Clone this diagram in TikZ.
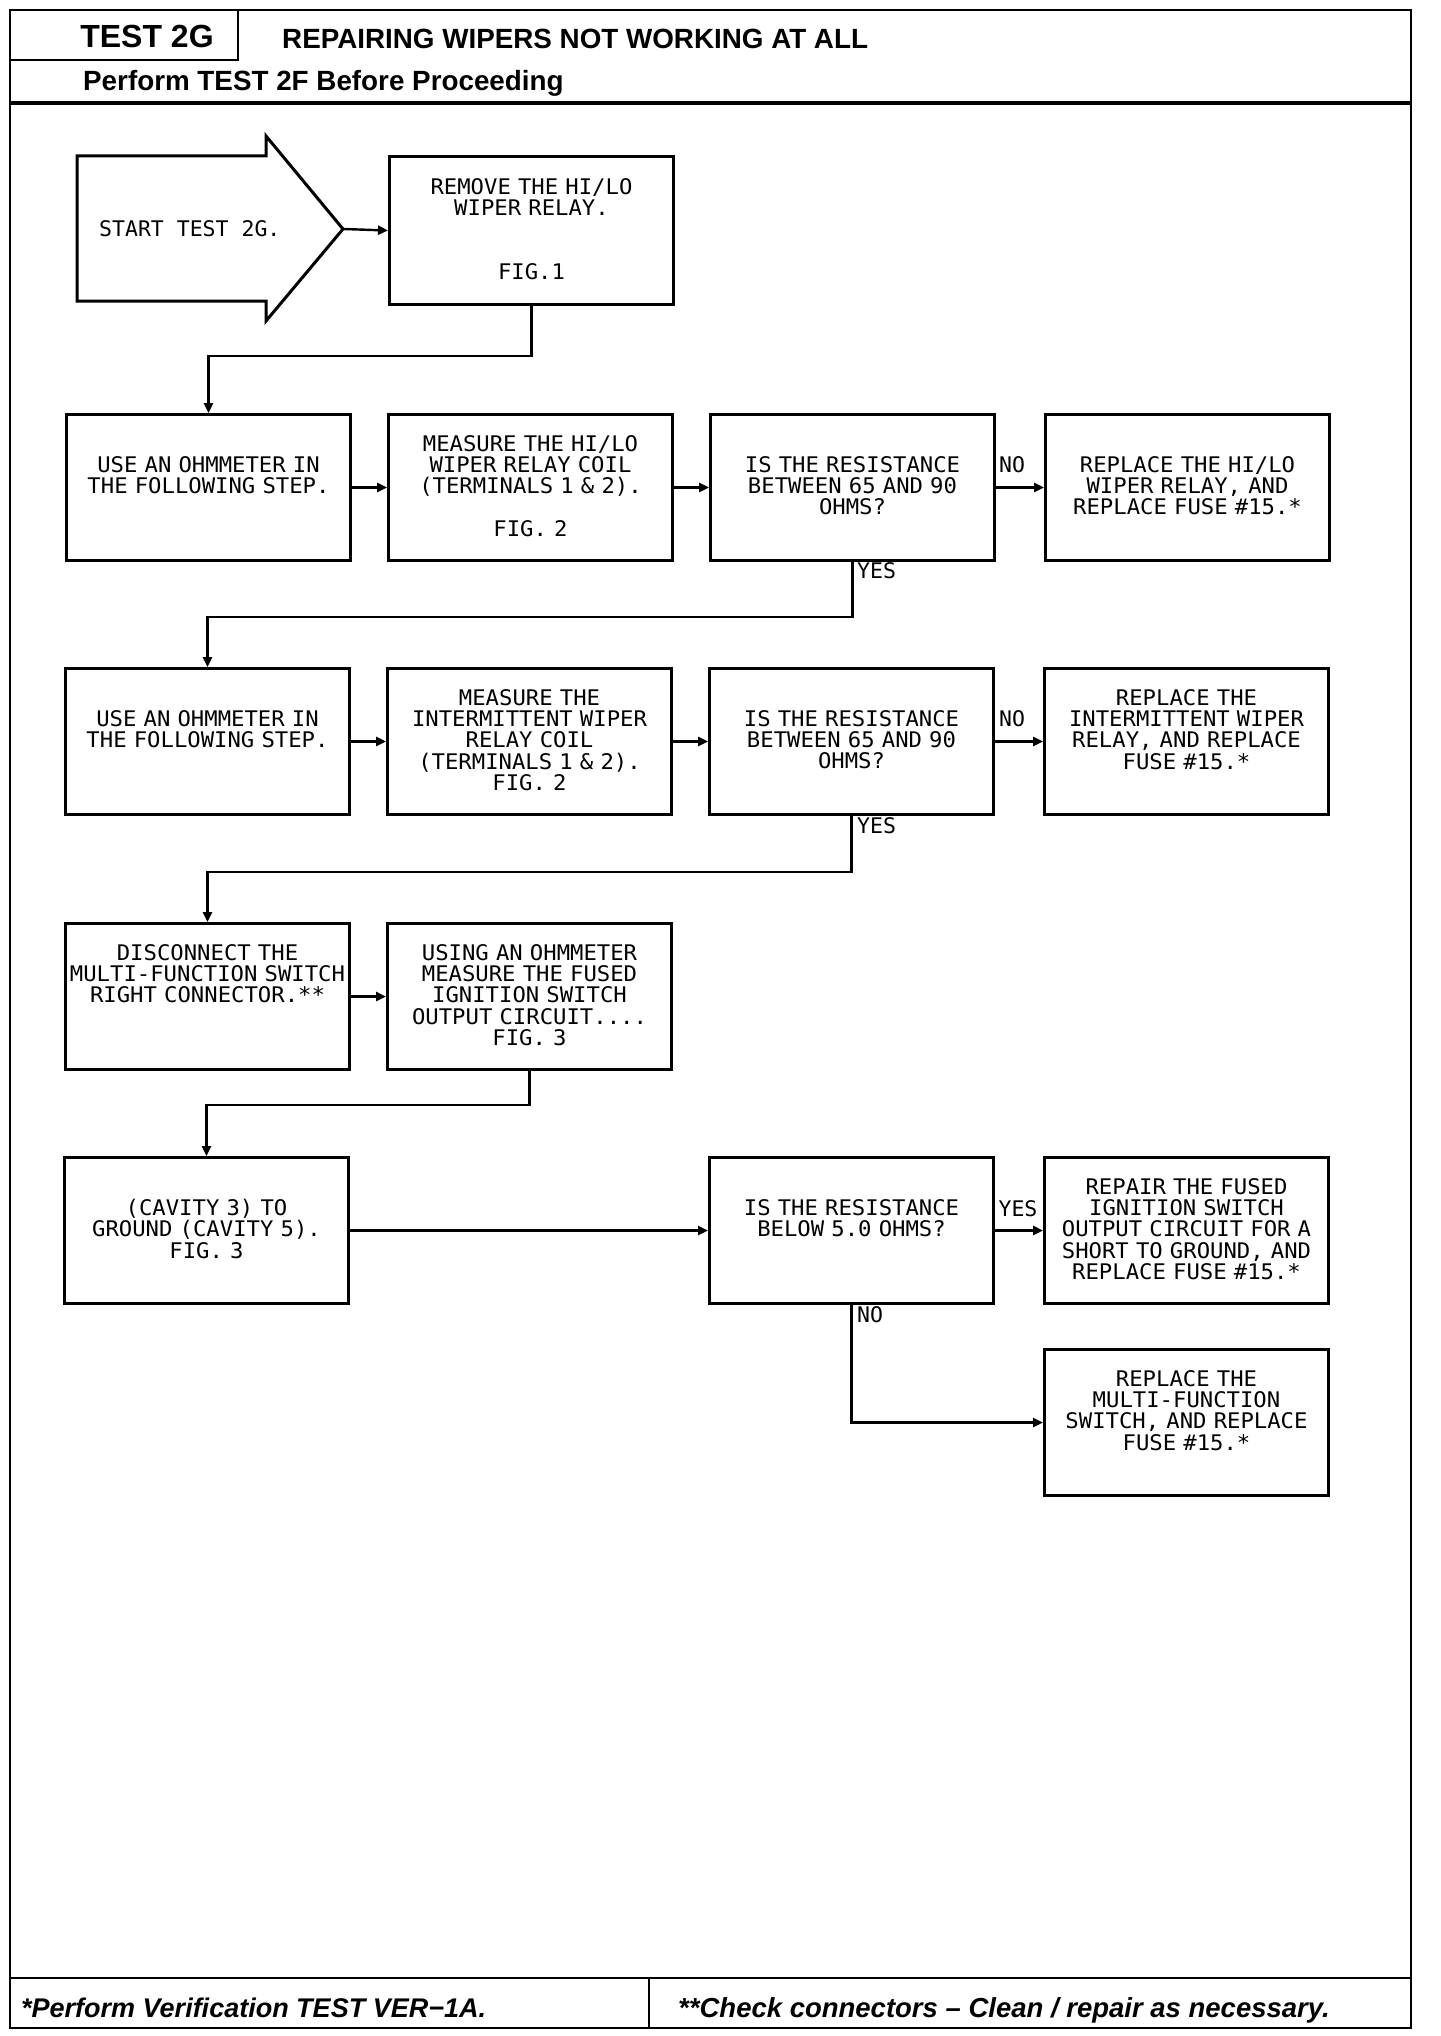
\documentclass[tikz,border=0pt]{standalone}
\usepackage{fontspec}
\setmainfont{Liberation Sans}
\newfontfamily\monofont[WordSpace={1,0,0}]{DejaVu Sans Mono}
\newfontfamily\monowide[WordSpace={1,0,0},FakeStretch=1.035]{DejaVu Sans Mono}
\usetikzlibrary{arrows.meta,calc}
\begin{document}
\begin{tikzpicture}[x=1pt,y=-1pt,
  box/.style={draw, line width=3pt, minimum width=284pt, minimum height=146pt, inner sep=0pt, anchor=north west},
  txt/.style={font=\monowide\fontsize{21.5}{21.4}\selectfont, align=center, text width=284pt, inner sep=0pt, anchor=north},
  lbl/.style={font=\monofont\fontsize{21.5}{21.4}\selectfont, inner sep=0pt},
  conn/.style={line width=2.4pt, -{Triangle[length=10pt,width=9pt]}},
  frame/.style={line width=2.6pt}]
\useasboundingbox (0,0) rectangle (1440,2036);
\fill[white] (0,0) rectangle (1440,2036);
% frame and header
\draw[frame] (10,10) rectangle (1411,2028);
\draw[frame] (238,10) -- (238,60) -- (10,60);
\draw[line width=3.6pt] (10,103) -- (1411,103);
\draw[frame] (10,1978) -- (1411,1978);
\draw[frame] (649,1978) -- (649,2028);
\node[font=\bfseries\fontsize{32}{36}\selectfont, inner sep=0pt] (t2g) at (147,36) {TEST 2G};
\node[font=\bfseries\fontsize{27.8}{30}\selectfont, anchor=west, inner sep=0pt] (title) at (282,39) {REPAIRING WIPERS NOT WORKING AT ALL};
\node[font=\bfseries\fontsize{27.8}{30}\selectfont, anchor=base west, inner sep=0pt] (pre) at (83,91) {Perform TEST 2F Before Proceeding};
\node[font=\bfseries\itshape\fontsize{27}{30}\selectfont, anchor=base west, inner sep=0pt] (foot1) at (21,2017) {*Perform Verification TEST VER−1A.};
\node[font=\bfseries\itshape\fontsize{27.5}{30}\selectfont, anchor=base west, inner sep=0pt] (foot2) at (678,2017) {**Check connectors – Clean / repair as necessary.};
% start arrow
\draw[line width=3pt, line join=miter] (77,156) -- (266,156) -- (266,136) -- (343,229) -- (266,321) -- (266,301) -- (77,301) -- cycle;
\coordinate (starttip) at (343,229);
\node[lbl, anchor=west] (starttxt) at (99,229) {START TEST 2G.};
% boxes
\node[box, minimum height=148pt] (remove) at (388,155) {};
\node[box] (a1) at (65,413) {};
\node[box] (b1) at (387,413) {};
\node[box] (c1) at (709,413) {};
\node[box] (d1) at (1044,413) {};
\node[box] (a2) at (64,667) {};
\node[box] (b2) at (386,667) {};
\node[box] (c2) at (708,667) {};
\node[box] (d2) at (1043,667) {};
\node[box] (a3) at (64,922) {};
\node[box] (b3) at (386,922) {};
\node[box] (a4) at (63,1156) {};
\node[box] (c4) at (708,1156) {};
\node[box] (d4) at (1043,1156) {};
\node[box] (d5) at (1043,1348) {};
% box texts
\node[txt] (tremove) at ($(remove.north)+(0,23)$) {REMOVE THE HI/LO\\WIPER RELAY.\\[42.8pt]FIG.1};
\node[txt] (ta1) at ($(a1.north)+(0,43)$) {USE AN OHMMETER IN\\THE FOLLOWING STEP.};
\node[txt] (tb1) at ($(b1.north)+(0,22)$) {MEASURE THE HI/LO\\WIPER RELAY COIL\\(TERMINALS 1 \& 2).\\[21.4pt]FIG. 2};
\node[txt] (tc1) at ($(c1.north)+(0,43)$) {IS THE RESISTANCE\\BETWEEN 65 AND 90\\OHMS?};
\node[txt] (td1) at ($(d1.north)+(0,43)$) {REPLACE THE HI/LO\\WIPER RELAY, AND\\REPLACE FUSE \#15.*};
\node[txt] (ta2) at ($(a2.north)+(0,43)$) {USE AN OHMMETER IN\\THE FOLLOWING STEP.};
\node[txt] (tb2) at ($(b2.north)+(0,22)$) {MEASURE THE\\INTERMITTENT WIPER\\RELAY COIL\\(TERMINALS 1 \& 2).\\FIG. 2};
\node[txt] (tc2) at ($(c2.north)+(0,43)$) {IS THE RESISTANCE\\BETWEEN 65 AND 90\\OHMS?};
\node[txt] (td2) at ($(d2.north)+(0,22)$) {REPLACE THE\\INTERMITTENT WIPER\\RELAY, AND REPLACE\\FUSE \#15.*};
\node[txt] (ta3) at ($(a3.north)+(0,22)$) {DISCONNECT THE\\MULTI-FUNCTION SWITCH\\RIGHT CONNECTOR.**};
\node[txt] (tb3) at ($(b3.north)+(0,22)$) {USING AN OHMMETER\\MEASURE THE FUSED\\IGNITION SWITCH\\OUTPUT CIRCUIT....\\FIG. 3};
\node[txt] (ta4) at ($(a4.north)+(0,43)$) {(CAVITY 3) TO\\GROUND (CAVITY 5).\\FIG. 3};
\node[txt] (tc4) at ($(c4.north)+(0,43)$) {IS THE RESISTANCE\\BELOW 5.0 OHMS?};
\node[txt] (td4) at ($(d4.north)+(0,22)$) {REPAIR THE FUSED\\IGNITION SWITCH\\OUTPUT CIRCUIT FOR A\\SHORT TO GROUND, AND\\REPLACE FUSE \#15.*};
\node[txt] (td5) at ($(d5.north)+(0,22)$) {REPLACE THE\\MULTI-FUNCTION\\SWITCH, AND REPLACE\\FUSE \#15.*};
% connectors
\draw[conn] (starttip) -- (remove.west);
\draw[conn] (remove.south) -- ++(0,50) -| (a1.north);
\draw[conn] (a1.east) -- (b1.west);
\draw[conn] (b1.east) -- (c1.west);
\draw[conn] (c1.east) -- (d1.west);
\draw[conn] (c1.south) -- ++(0,55) -| (a2.north);
\draw[conn] (a2.east) -- (b2.west);
\draw[conn] (b2.east) -- (c2.west);
\draw[conn] (c2.east) -- (d2.west);
\draw[conn] (c2.south) -- ++(0,56) -| (a3.north);
\draw[conn] (a3.east) -- (b3.west);
\draw[conn] (b3.south) -- ++(0,34) -| (a4.north);
\draw[conn] (a4.east) -- (c4.west);
\draw[conn] (c4.east) -- (d4.west);
\draw[conn] (c4.south) |- (d5.west);
% branch labels
\node[lbl] (no1) at (1012,465) {NO};
\node[lbl, anchor=west] (yes1) at (857,571) {YES};
\node[lbl] (no2) at (1012,719) {NO};
\node[lbl, anchor=west] (yes2) at (857,826) {YES};
\node[lbl] (yes4) at (1018,1209) {YES};
\node[lbl, anchor=west] (no4) at (857,1315) {NO};
\end{tikzpicture}
\end{document}
